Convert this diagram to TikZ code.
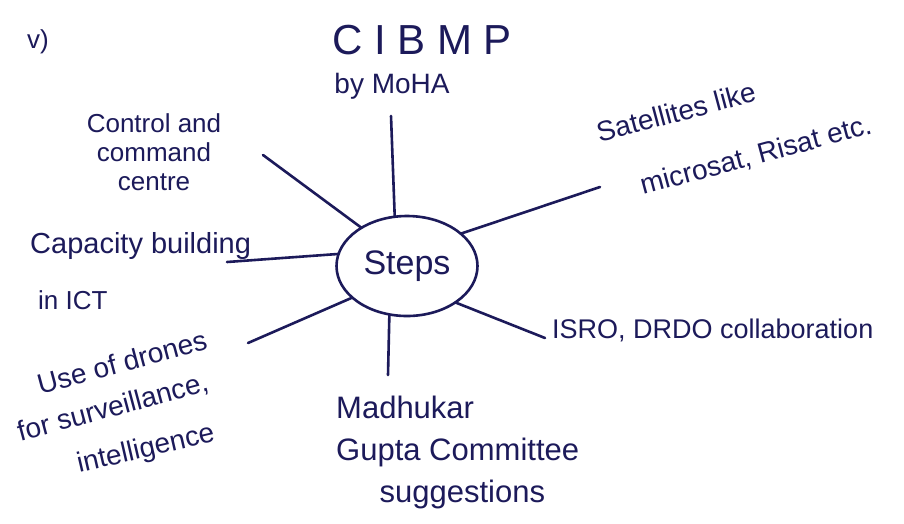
\documentclass[tikz,border=0pt]{standalone}
\usepackage{fontspec}
\setmainfont{Liberation Sans}
\usetikzlibrary{shapes.geometric}
\definecolor{ink}{HTML}{1C1A5A}
\begin{document}
\begin{tikzpicture}[x=1pt,y=-1pt,
  ink line/.style={draw=ink,line width=2.6pt,line cap=round},
  label text/.style={text=ink,inner sep=0pt,font=\fontsize{26}{30}\selectfont},
  big text/.style={label text,font=\fontsize{28}{32}\selectfont},
  hub/.style={shape=ellipse,draw=ink,line width=2.6pt,text=ink,
    minimum width=141pt,minimum height=100pt,inner sep=0pt,outer sep=0pt,
    font=\fontsize{34}{40}\selectfont}]
  \useasboundingbox[fill=white] (0,0) rectangle (904,523);

  % section number
  \node[label text] (num) at (38,42) {v)};

  % central hub
  \node[hub] (steps) at (407,266) {Steps};

  % top branch
  \node[label text,font=\fontsize{42}{46}\selectfont] (cibmp) at (422,40) {C I B M P};
  \node[label text,font=\fontsize{28}{32}\selectfont] (moha) at (392,86) {by MoHA};

  % left branches
  \node[label text,align=center,font=\fontsize{26}{29}\selectfont] (ctrl) at (154,152) {Control and\\command\\centre};
  \node[big text,font=\fontsize{29}{34}\selectfont,anchor=west] (cap) at (30,246) {Capacity building};
  \node[label text,anchor=west] (ict) at (38,300) {in ICT};
  \node[big text,rotate=15] (drones1) at (122,362) {Use of drones};
  \node[big text,rotate=15] (drones2) at (113,408) {for surveillance,};
  \node[big text,rotate=13] (drones3) at (146,450) {intelligence};

  % right branches
  \node[big text,rotate=15] (sat1) at (676,112) {Satellites like};
  \node[big text,rotate=15] (sat2) at (756,156) {microsat, Risat etc.};
  \node[label text,font=\fontsize{27}{32}\selectfont,anchor=west] (isro) at (552,330) {ISRO, DRDO collaboration};

  % bottom branch
  \node[label text,align=left,anchor=north west,font=\fontsize{31}{42}\selectfont] (gupta) at (336,396) {Madhukar\\Gupta Committee\\\hspace*{1.4em}suggestions};

  % free ends of the spokes
  \coordinate (e-top) at (391,116);
  \coordinate (e-ctrl) at (263,155);
  \coordinate (e-sat) at (600,187);
  \coordinate (e-cap) at (227,262);
  \coordinate (e-drones) at (248,343);
  \coordinate (e-gupta) at (388,375);
  \coordinate (e-isro) at (545,338);

  % spokes
  \path[ink line] (steps.104) -- (e-top);
  \path[ink line] (steps.140) -- (e-ctrl);
  \path[ink line] (steps.31) -- (e-sat);
  \path[ink line] (steps.170) -- (e-cap);
  \path[ink line] (steps.210) -- (e-drones);
  \path[ink line] (steps.250) -- (e-gupta);
  \path[ink line] (steps.323) -- (e-isro);
\end{tikzpicture}
\end{document}
